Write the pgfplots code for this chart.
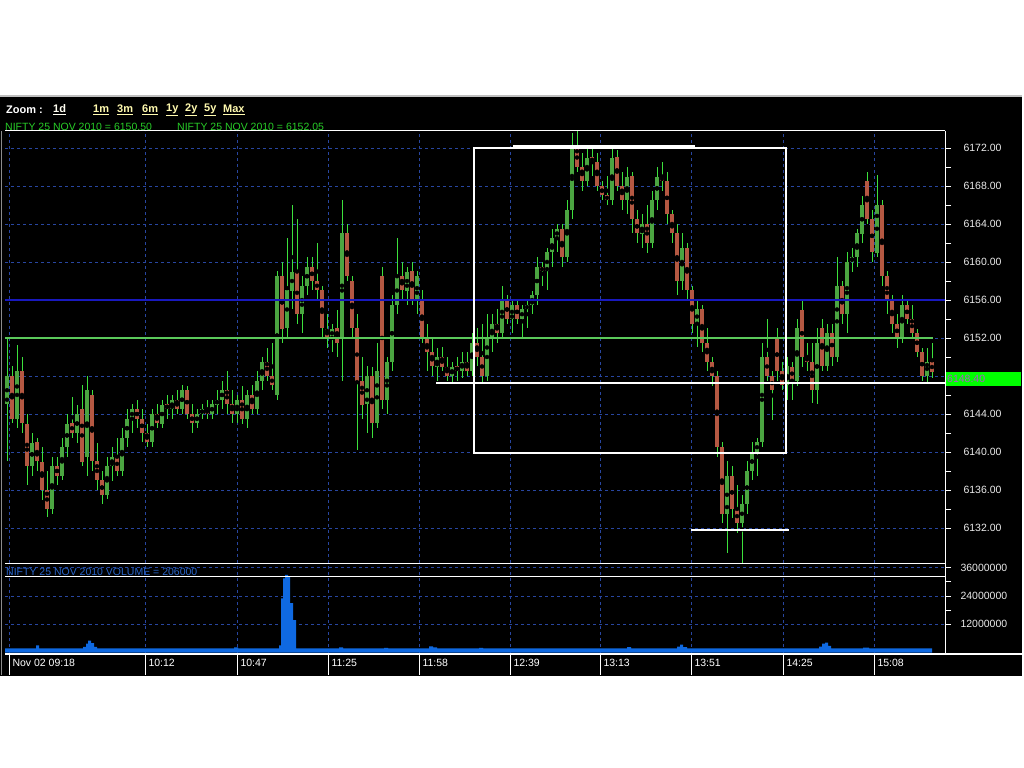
\documentclass[border=0pt]{standalone}
\usepackage{fontspec}
\setmainfont{Liberation Sans}
\usepackage{pgfplots}
\usepackage{pgfplotstable}
\pgfplotsset{compat=1.18}
\definecolor{gridblue}{RGB}{40,70,160}
\definecolor{wick}{RGB}{60,225,60}
\definecolor{upbody}{RGB}{75,165,65}
\definecolor{dnbody}{RGB}{180,88,66}
\definecolor{volblue}{RGB}{15,105,225}
\definecolor{lvlblue}{RGB}{25,25,190}
\definecolor{lvlgreen}{RGB}{90,200,90}
\definecolor{hdrgreen}{RGB}{40,205,40}
\definecolor{zoomyellow}{RGB}{255,250,175}
\definecolor{vollabel}{RGB}{40,100,200}
\definecolor{boxgreen}{RGB}{0,255,0}
\definecolor{boxtext}{RGB}{170,90,200}
\newcommand{\fs}{\fontsize{10.5bp}{12bp}\selectfont}

\pgfplotstableread{
x o h l c
7 6145.0 6152.0 6139.0 6148.0
12 6148.0 6149.0 6143.0 6143.5
17 6143.5 6151.3 6142.5 6148.5
22 6148.5 6150.0 6142.0 6143.0
27 6143.0 6144.0 6136.5 6138.5
32 6138.5 6142.0 6137.5 6141.0
37 6141.0 6141.5 6138.0 6139.0
42 6139.0 6140.5 6135.0 6136.0
47 6136.0 6138.0 6133.2 6134.0
52 6134.0 6139.5 6133.5 6138.5
57 6138.5 6139.5 6136.5 6137.5
62 6137.5 6141.5 6137.0 6140.5
67 6140.5 6144.0 6139.5 6143.0
72 6143.0 6145.8 6141.5 6142.0
77 6142.0 6145.0 6141.0 6144.0
82 6144.5 6147.0 6138.5 6139.0
87 6139.5 6148.0 6137.5 6146.5
92 6146.0 6146.5 6138.0 6139.0
97 6139.0 6141.0 6136.0 6137.0
102 6137.0 6138.0 6134.5 6135.5
107 6135.5 6139.5 6135.0 6138.5
112 6138.5 6140.5 6137.0 6139.5
117 6139.5 6141.5 6137.5 6138.0
122 6138.0 6142.5 6137.5 6141.5
127 6141.5 6144.5 6140.5 6143.5
132 6143.5 6145.0 6142.0 6144.5
137 6144.5 6145.5 6142.5 6143.5
142 6143.5 6144.5 6141.0 6142.0
147 6142.0 6143.0 6140.5 6141.0
152 6141.0 6144.5 6140.5 6144.0
157 6144.0 6145.0 6142.5 6143.0
162 6143.0 6145.5 6142.5 6145.0
167 6145.0 6146.0 6143.5 6144.5
172 6144.5 6146.0 6143.5 6145.5
177 6145.5 6146.5 6144.0 6144.5
182 6144.5 6147.0 6144.0 6146.5
187 6146.5 6147.0 6143.5 6144.0
192 6144.0 6145.0 6142.0 6143.0
197 6143.0 6144.5 6142.5 6144.0
202 6144.0 6145.0 6143.5 6144.5
207 6144.5 6145.5 6143.5 6144.0
212 6144.0 6145.5 6143.5 6145.0
217 6145.0 6146.5 6144.0 6145.5
222 6145.5 6147.5 6144.5 6146.5
227 6146.5 6148.5 6144.0 6145.0
232 6145.0 6146.5 6143.0 6144.0
237 6144.0 6146.0 6143.0 6145.5
242 6145.5 6147.0 6143.0 6143.5
247 6143.5 6146.5 6142.5 6146.0
252 6146.0 6147.0 6144.0 6144.5
257 6144.5 6148.5 6144.0 6147.5
262 6147.5 6150.0 6146.5 6149.5
267 6149.5 6151.0 6147.5 6148.0
272 6148.0 6151.5 6146.5 6147.0
277 6146.0 6159.0 6145.5 6158.5
282 6158.5 6160.0 6151.5 6153.0
287 6153.0 6162.5 6152.0 6157.0
292 6157.0 6166.0 6155.0 6159.0
297 6159.0 6164.5 6153.5 6154.5
302 6154.5 6158.5 6152.5 6157.5
307 6157.5 6160.5 6156.5 6159.5
312 6159.5 6160.5 6157.0 6158.0
317 6158.0 6162.0 6156.0 6157.0
322 6157.0 6157.5 6152.0 6153.0
327 6153.0 6154.5 6151.0 6152.0
332 6152.0 6153.5 6150.5 6153.0
337 6153.0 6155.0 6150.0 6151.5
342 6152.0 6166.5 6147.5 6163.0
347 6163.0 6164.0 6158.0 6158.5
352 6158.0 6158.5 6152.0 6153.0
357 6153.0 6154.5 6140.2 6147.5
362 6147.5 6150.0 6143.5 6145.0
367 6145.0 6149.0 6142.0 6148.0
372 6148.0 6149.0 6141.5 6143.0
377 6143.0 6151.5 6142.5 6148.5
382 6158.5 6159.5 6144.5 6145.5
387 6145.5 6150.0 6144.0 6149.5
392 6149.5 6156.5 6148.5 6155.5
397 6155.5 6162.5 6154.5 6158.5
402 6158.5 6160.0 6156.0 6157.0
407 6157.0 6159.5 6155.5 6159.0
412 6159.0 6160.0 6155.5 6156.0
417 6156.0 6159.0 6154.5 6158.5
422 6156.0 6157.0 6151.5 6152.0
427 6152.0 6153.5 6148.5 6150.5
432 6150.5 6152.0 6148.0 6149.0
437 6149.0 6151.0 6147.5 6150.0
442 6150.0 6151.0 6148.5 6149.0
447 6149.0 6150.0 6147.5 6148.0
452 6148.0 6149.5 6147.3 6149.0
457 6149.0 6150.0 6147.5 6148.5
462 6148.5 6150.5 6147.8 6149.5
467 6149.5 6150.5 6148.0 6148.5
472 6148.5 6152.5 6148.0 6151.5
477 6151.5 6153.0 6149.0 6150.0
482 6150.0 6153.5 6147.3 6148.0
487 6148.0 6154.5 6147.5 6152.0
492 6152.0 6154.5 6150.5 6153.5
497 6153.5 6155.0 6151.5 6152.5
502 6152.5 6157.5 6152.0 6156.0
507 6156.0 6156.5 6153.5 6154.0
512 6154.0 6156.0 6152.5 6155.5
517 6155.5 6156.0 6153.5 6154.0
522 6154.0 6155.5 6152.0 6155.0
527 6155.0 6156.0 6153.0 6155.5
532 6155.5 6157.0 6154.5 6156.5
537 6156.5 6160.5 6155.5 6159.5
542 6159.5 6160.0 6157.5 6159.0
547 6159.0 6161.5 6157.0 6161.0
552 6161.0 6163.5 6159.5 6162.5
557 6162.5 6164.0 6161.0 6163.5
562 6163.5 6164.0 6159.5 6160.5
567 6160.5 6166.5 6160.0 6165.5
572 6165.5 6173.6 6164.5 6172.0
577 6172.0 6173.8 6169.5 6170.0
582 6170.0 6171.5 6167.5 6168.5
587 6168.5 6172.0 6168.0 6171.0
592 6171.0 6172.0 6169.0 6170.5
597 6170.5 6171.5 6167.5 6168.0
602 6168.0 6168.5 6166.5 6167.0
607 6167.0 6169.0 6166.0 6166.5
612 6166.5 6172.0 6166.0 6171.0
617 6171.0 6171.8 6167.5 6168.0
622 6168.0 6169.5 6165.5 6166.5
627 6166.5 6170.0 6165.0 6169.0
632 6169.0 6169.5 6163.0 6164.5
637 6164.5 6165.5 6162.0 6163.0
642 6163.0 6165.0 6161.5 6164.0
647 6164.0 6166.0 6161.0 6162.0
652 6162.0 6167.5 6161.5 6166.5
657 6166.5 6170.0 6165.5 6169.0
662 6169.0 6170.5 6167.5 6168.5
667 6168.5 6169.5 6164.0 6165.0
672 6165.0 6165.5 6162.0 6163.0
677 6163.0 6164.0 6156.5 6158.0
682 6158.0 6163.0 6157.0 6161.5
687 6161.5 6162.0 6156.0 6157.0
692 6157.0 6157.5 6152.5 6153.5
697 6153.5 6156.0 6151.0 6155.0
702 6155.0 6155.5 6150.5 6151.5
707 6151.5 6153.0 6148.5 6149.5
712 6149.5 6150.0 6147.0 6148.0
717 6148.0 6148.5 6139.5 6140.5
722 6140.5 6141.0 6132.5 6133.5
727 6133.5 6139.0 6129.4 6137.5
732 6137.5 6138.5 6133.0 6134.0
737 6134.0 6136.5 6131.5 6132.5
742 6132.5 6135.5 6128.2 6134.5
747 6134.5 6139.0 6133.5 6138.0
752 6138.0 6141.0 6137.0 6140.0
757 6140.0 6141.5 6137.5 6141.0
762 6141.0 6151.5 6140.5 6150.0
767 6150.0 6154.0 6147.5 6148.0
772 6148.0 6148.5 6143.4 6146.5
777 6152.0 6153.0 6147.5 6148.5
782 6148.5 6149.5 6146.5 6147.0
787 6147.0 6150.0 6145.5 6149.0
792 6149.0 6149.5 6145.5 6147.5
797 6147.5 6154.0 6147.0 6153.0
802 6155.0 6156.0 6149.0 6150.0
807 6150.0 6151.5 6148.5 6149.5
812 6149.5 6151.5 6145.2 6146.5
817 6146.5 6153.0 6145.0 6151.5
822 6153.0 6154.0 6148.5 6149.0
827 6149.0 6153.5 6148.5 6152.5
832 6152.5 6153.5 6149.0 6150.0
837 6150.0 6160.5 6149.5 6157.5
842 6157.5 6158.0 6153.5 6154.5
847 6154.5 6161.0 6152.5 6160.0
852 6160.0 6161.5 6159.0 6160.5
857 6160.5 6163.5 6159.5 6163.0
862 6163.0 6167.0 6162.0 6166.0
867 6168.5 6169.5 6164.0 6164.5
872 6164.5 6165.5 6160.0 6161.0
877 6161.0 6169.2 6160.5 6166.0
882 6166.0 6166.5 6157.5 6158.5
887 6158.5 6159.0 6154.5 6156.0
892 6156.0 6156.5 6152.5 6153.5
897 6153.5 6154.5 6151.0 6152.0
902 6152.0 6156.5 6151.5 6155.5
907 6155.5 6156.0 6153.5 6154.0
912 6154.0 6155.5 6152.0 6152.5
917 6152.5 6153.0 6150.0 6150.5
922 6150.5 6151.0 6147.5 6148.0
927 6148.0 6151.0 6147.3 6149.5
932 6149.5 6151.5 6147.8 6148.4
}\prices

\pgfplotstableread{
x v
5 1.8
35 1.8
36 3.0
39 1.8
83 2.4
86 3.8
88 5.0
91 4.0
94 2.4
97 1.8
234 2.2
238 1.8
279 3.0
281 23.0
283 31.5
285 33.0
288 32.0
290 21.0
293 13.8
296 1.8
339 2.2
343 1.8
384 2.0
388 1.8
429 2.6
433 2.2
437 1.8
479 2.0
483 1.8
627 2.3
631 1.8
677 2.5
680 3.3
683 2.3
687 1.8
819 2.5
822 3.8
825 4.2
828 2.8
831 1.8
863 2.1
869 1.8
932 1.8
}\volume

\begin{document}
\begin{tikzpicture}
\begin{scope}[x=1bp,y=1bp]
\useasboundingbox (0,0) rectangle (1024,768);
\fill[white] (0,0) rectangle (1024,768);
\fill[black] (0,92) rectangle (1022,671);
\draw[black!25, line width=1.5bp] (0,672) -- (1022,672);
\end{scope}

% ---------------- price panel ----------------
\begin{axis}[
  at={(5bp,205bp)}, anchor=south west, scale only axis,
  width=940bp, height=432bp,
  xmin=5, xmax=945, ymin=6128.316, ymax=6173.789,
  axis line style={draw=none},
  xtick={9,145,237,328,419,510,600,691,783,874}, xticklabels={},
  xtick style={draw=none},
  ytick={6132,6136,6140,6144,6148,6152,6156,6160,6164,6168,6172},
  yticklabels={6132.00,6136.00,6140.00,6144.00,,6152.00,6156.00,6160.00,6164.00,6168.00,6172.00},
  minor y tick num=1,
  ytick pos=right, yticklabel pos=right,
  tick align=outside, major tick length=6bp, minor tick length=6bp,
  ytick style={white, line width=0.8bp},
  minor y tick style={white, line width=0.8bp},
  yticklabel style={font=\fs, text=white!92!black, anchor=west, xshift=9bp},
  grid=major,
  major grid style={gridblue, dash pattern=on 3bp off 3bp, line width=0.8bp},
]
\addplot[only marks, mark=none,
  error bars/.cd, y dir=both, y explicit, error mark=none,
  error bar style={draw=wick, line width=1bp, solid}]
  table[x=x, y expr={0.5*(\thisrow{h}+\thisrow{l})},
        y error expr={0.5*(\thisrow{h}-\thisrow{l})}] {\prices};
\addplot[only marks, mark=none, restrict y to domain=6120:6180,
  error bars/.cd, y dir=both, y explicit, error mark=none,
  error bar style={draw=upbody, line width=3.8bp, solid}]
  table[x=x, y expr={\thisrow{c}>=\thisrow{o} ? 0.5*(\thisrow{o}+\thisrow{c}) : 6000},
        y error expr={max(0.5*abs(\thisrow{c}-\thisrow{o}),0.15)}] {\prices};
\addplot[only marks, mark=none, restrict y to domain=6120:6180,
  error bars/.cd, y dir=both, y explicit, error mark=none,
  error bar style={draw=dnbody, line width=3.8bp, solid}]
  table[x=x, y expr={\thisrow{c}<\thisrow{o} ? 0.5*(\thisrow{o}+\thisrow{c}) : 6000},
        y error expr={max(0.5*abs(\thisrow{c}-\thisrow{o}),0.15)}] {\prices};
\end{axis}

% ---------------- volume panel ----------------
\begin{axis}[
  at={(5bp,115bp)}, anchor=south west, scale only axis,
  width=940bp, height=90bp,
  xmin=5, xmax=945, ymin=-0.2, ymax=38,
  axis line style={draw=none},
  xtick={9,145,237,328,419,510,600,691,783,874},
  xticklabels={Nov 02 09:18,10:12,10:47,11:25,11:58,12:39,13:13,13:51,14:25,15:08},
  xtick style={draw=none},
  xticklabel style={font=\fs, text=white, anchor=west, yshift=-4bp},
  ytick={12,24,36}, yticklabels={12000000,24000000,36000000},
  minor y tick num=1,
  ytick pos=right, yticklabel pos=right,
  tick align=outside, major tick length=6bp, minor tick length=6bp,
  ytick style={white, line width=0.8bp},
  minor y tick style={white, line width=0.8bp},
  yticklabel style={font=\fs, text=white!92!black, anchor=west, xshift=6bp},
  grid=major,
  major grid style={gridblue, dash pattern=on 3bp off 3bp, line width=0.8bp},
]
\addplot[const plot, fill=volblue, draw=none] table[x=x, y=v] {\volume} \closedcycle;
\end{axis}

\begin{scope}[x=1bp,y=1bp]
% ---------------- level lines and boxes ----------------
\draw[lvlblue, line width=1.5bp] (5,468) -- (945,468);
\draw[lvlgreen, line width=1.2bp] (5,430) -- (933,430);
\draw[white, line width=2bp] (474,620) rectangle (786,315);
\draw[white, line width=2bp] (513,621.5) -- (695,621.5);
\draw[white, line width=2bp] (436,385) -- (957,385);
\draw[white, line width=2bp] (691,238) -- (789,238);

% frame
\draw[white, line width=1bp] (5,637) -- (945,637);
\draw[white, line width=1bp] (945,637) -- (945,114);
\draw[white, line width=1.5bp] (5,114) -- (1022,114);
\draw[white, line width=1bp] (5,204) -- (945,204);
\draw[white, line width=1bp] (5,191) -- (945,191);
\draw[black!45, line width=1bp] (1.5,637) -- (1.5,93);
\foreach \t in {9,145,237,328,419,510,600,691,783,874}
  \draw[white, line width=1bp] (\t,114) -- (\t,93);

% last price box
\fill[boxgreen] (946,382) rectangle (1021,396);
\node[anchor=west, font=\fs, text=boxtext, inner sep=0] at (947,389) {6148.40};

% header
\node[anchor=west, inner sep=0, font=\fontsize{11bp}{13bp}\selectfont\bfseries, text=white] at (6,658) {Zoom :};
\begin{scope}[every node/.style={anchor=west, inner sep=0, font=\fontsize{11bp}{13bp}\selectfont\bfseries}]
\node[text=white!95!yellow] at (53,658) {\underline{1d}};
\node[text=zoomyellow] at (93,658) {\underline{1m}};
\node[text=zoomyellow] at (117,658) {\underline{3m}};
\node[text=zoomyellow] at (142,658) {\underline{6m}};
\node[text=zoomyellow] at (166,658) {\underline{1y}};
\node[text=zoomyellow] at (185,658) {\underline{2y}};
\node[text=zoomyellow] at (204,658) {\underline{5y}};
\node[text=zoomyellow] at (223,658) {\underline{Max}};
\end{scope}
\node[anchor=west, inner sep=0, font=\fs, text=hdrgreen] at (5,641.5) {NIFTY 25 NOV 2010 = 6150.50};
\node[anchor=west, inner sep=0, font=\fs, text=hdrgreen] at (177,641.5) {NIFTY 25 NOV 2010 = 6152.05};
\node[anchor=west, inner sep=0, font=\fs, text=vollabel] at (6,196) {NIFTY 25 NOV 2010 VOLUME = 206000};
\end{scope}
\end{tikzpicture}
\end{document}
